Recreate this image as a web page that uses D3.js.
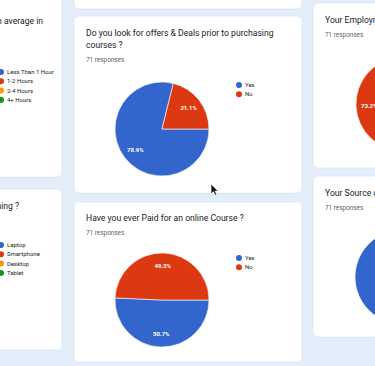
<!DOCTYPE html>
<html lang="en">
<head>
    <meta charset="UTF-8">
    <title>Online Course Survey - Responses</title>
    <script src="https://cdnjs.cloudflare.com/ajax/libs/d3/7.8.5/d3.min.js"></script>
    <style>
        body {
            margin: 0;
            background-color: #e3eefa;
            font-family: Roboto, Arial, sans-serif;
            overflow: hidden;
        }
        .card {
            fill: #fff;
            stroke: #d3e0ee;
            stroke-width: 0.6;
        }
        .title {
            font-size: 8.6px;
            fill: #202124;
        }
        .responses {
            font-size: 6.4px;
            fill: #5f6368;
        }
        .legend-text {
            font-size: 6px;
            fill: #222;
        }
        .slice-label {
            font-size: 6px;
            font-weight: bold;
            fill: #fff;
        }
    </style>
</head>
<body>
    <div id="chart"></div>

    <script>
        // Google Charts default palette
        const colors = ["#3366cc", "#dc3912", "#ff9900", "#109618"];

        // Answers (71 responses per question)
        const timeLabels = ["Less Than 1 Hour", "1-2 Hours", "2-4 Hours", "4+ Hours"];
        const timeValues = [22, 27, 15, 7];

        const deviceLabels = ["Laptop", "Smartphone", "Desktop", "Tablet"];
        const deviceValues = [31, 29, 7, 4];

        const offersLabels = ["Yes", "No"];
        const offersValues = [56, 15];

        const paidLabels = ["Yes", "No"];
        const paidValues = [36, 35];

        const employLabels = ["Employed", "Student", "Self-Employed"];
        const employValues = [9, 52, 10];

        const sourceLabels = ["YouTube", "Online Platforms", "Other"];
        const sourceValues = [47, 14, 10];

        const responseCount = 71;

        const width = 375, height = 366;
        const radius = 47;

        const svg = d3.select("#chart")
            .append("svg")
            .attr("width", width)
            .attr("height", height);

        // page background
        svg.append("rect")
            .attr("width", width)
            .attr("height", height)
            .attr("fill", "#e3eefa");

        // card layout (x, y, w, h) and where each piece sits inside it
        const panels = [
            { card: [-10, -10, 72, 187], title: ["How many hours do you spend learning on average in"], anchor: "end", tx: 43, ty: 24,
              labels: timeLabels, values: timeValues, cx: -76, cy: 110, legendX: 1, legendY: 72 },
            { card: [-10, 189, 72, 161], title: ["Which device do you use the most for online learning ?"], anchor: "end", tx: 19, ty: 209,
              labels: deviceLabels, values: deviceValues, cx: -76, cy: 290, legendX: 1, legendY: 245 },
            { card: [74, -30, 228, 39] },
            { card: [74, 16, 228, 177], title: ["Do you look for offers & Deals prior to purchasing", "courses ?"], tx: 86, ty: 36, showCount: true,
              labels: offersLabels, values: offersValues, cx: 162, cy: 129, legendX: 239, legendY: 85 },
            { card: [74, 202, 228, 160], title: ["Have you ever Paid for an online Course ?"], tx: 86, ty: 221, showCount: true,
              labels: paidLabels, values: paidValues, cx: 162, cy: 300, legendX: 239, legendY: 258 },
            { card: [313, 3, 120, 165], title: ["Your Employment Status ?"], tx: 325, ty: 23, showCount: true,
              labels: employLabels, values: employValues, cx: 403, cy: 104, legendX: 480, legendY: 60 },
            { card: [313, 176, 120, 161], title: ["Your Source of Learning ?"], tx: 325, ty: 196, showCount: true,
              labels: sourceLabels, values: sourceValues, cx: 402, cy: 277, legendX: 480, legendY: 232 }
        ];

        const pie = d3.pie()
            .sort(null)
            .startAngle(Math.PI / 2)
            .endAngle(Math.PI / 2 + 2 * Math.PI);

        const arc = d3.arc().innerRadius(0).outerRadius(radius);
        const labelArc = d3.arc().innerRadius(radius * 0.72).outerRadius(radius * 0.72);
        const pct = d3.format(".1%");

        panels.forEach(p => {
            const [x, y, w, h] = p.card;
            svg.append("rect")
                .attr("class", "card")
                .attr("x", x)
                .attr("y", y)
                .attr("width", w)
                .attr("height", h)
                .attr("rx", 5);

            if (!p.values) return;

            // question title
            const title = svg.append("text")
                .attr("class", "title")
                .attr("text-anchor", p.anchor || "start");
            p.title.forEach((line, i) => {
                title.append("tspan")
                    .attr("x", p.tx)
                    .attr("y", p.ty + i * 12)
                    .text(line);
            });

            if (p.showCount) {
                svg.append("text")
                    .attr("class", "responses")
                    .attr("x", p.tx)
                    .attr("y", p.ty + p.title.length * 12 + 2)
                    .text(responseCount + " responses");
            }

            // pie
            const total = d3.sum(p.values);
            const arcs = pie(p.values);
            const g = svg.append("g")
                .attr("transform", `translate(${p.cx},${p.cy})`);

            g.selectAll("path")
                .data(arcs)
                .enter()
                .append("path")
                .attr("d", arc)
                .attr("fill", (d, i) => colors[i])
                .attr("stroke", "#fff")
                .attr("stroke-width", 0.6);

            // slice labels - only the ones that land inside the window
            const visible = arcs.filter(d => {
                const lx = p.cx + labelArc.centroid(d)[0];
                return lx > 0 && lx < width;
            });
            g.selectAll("text")
                .data(visible)
                .enter()
                .append("text")
                .attr("class", "slice-label")
                .attr("transform", d => `translate(${labelArc.centroid(d)})`)
                .attr("text-anchor", "middle")
                .attr("dy", "0.35em")
                .text(d => pct(d.data / total));

            // legend (right-hand cards have theirs past the window edge)
            if (p.legendX > width) return;
            const legend = svg.append("g");
            p.labels.forEach((label, i) => {
                const ly = p.legendY + i * 9.3;
                legend.append("circle")
                    .attr("cx", p.legendX)
                    .attr("cy", ly)
                    .attr("r", 3)
                    .attr("fill", colors[i]);
                legend.append("text")
                    .attr("class", "legend-text")
                    .attr("x", p.legendX + 6)
                    .attr("y", ly)
                    .attr("dy", "0.35em")
                    .text(label);
            });
        });

        // mouse pointer left on the page
        svg.append("path")
            .attr("transform", "translate(211,184)")
            .attr("d", "M0,0 L0,10 L2.4,7.7 L4.2,11.2 L5.8,10.4 L4.1,7.1 L7.2,7.1 Z")
            .attr("fill", "#111")
            .attr("stroke", "#fff")
            .attr("stroke-width", 0.7);
    </script>
</body>
</html>
